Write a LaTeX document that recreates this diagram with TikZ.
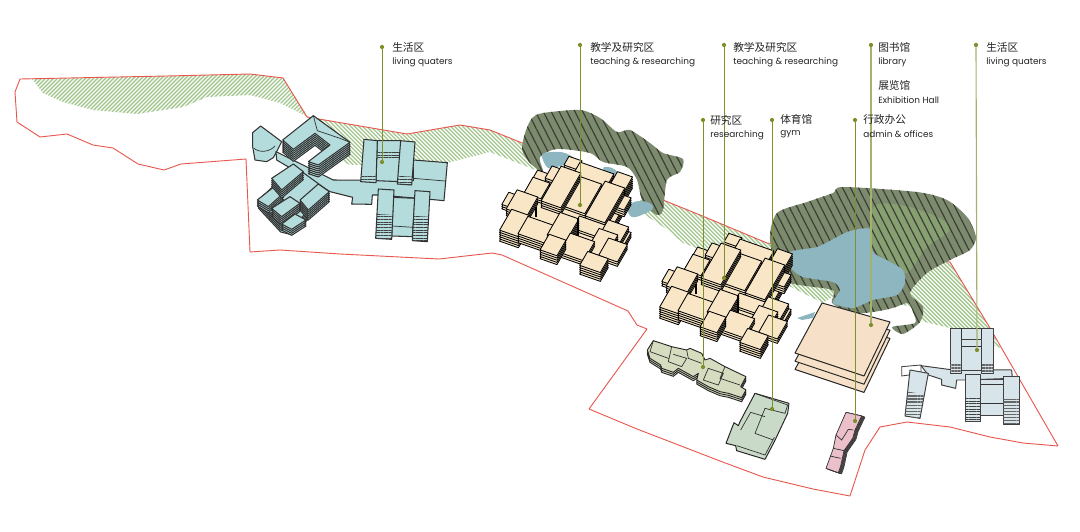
\documentclass[tikz,border=0pt]{standalone}
\usepackage{fontspec}
\setmainfont{Poppins}
\newfontfamily\cjkfont{Noto Sans CJK SC}
\usepackage{xcolor}
\usetikzlibrary{arrows.meta, positioning, patterns.meta}
\definecolor{SiteRed}{HTML}{E8574E}
\definecolor{Olive}{HTML}{7F8F2C}
\definecolor{PaleOlive}{HTML}{A3B26C}
\definecolor{BandGreen}{HTML}{A2C68E}
\definecolor{TreeGreen}{HTML}{7C8B6E}
\definecolor{TreeLight}{HTML}{86A072}
\definecolor{TreeLine}{HTML}{3E3D35}
\definecolor{Water}{HTML}{8DB6C0}
\definecolor{Cream}{HTML}{F8E6C6}
\definecolor{Peach}{HTML}{F6E1C8}
\definecolor{Teal}{HTML}{B5DCDC}
\definecolor{Frost}{HTML}{D7E5EA}
\definecolor{Sage}{HTML}{D5DCBF}
\definecolor{GymGreen}{HTML}{C9DBC8}
\definecolor{Pink}{HTML}{EBC0CB}
\definecolor{InkText}{HTML}{222222}

% floors of one building, lowest first
\newcommand{\stackup}[5]{\foreach \k in {#2,...,0}{\draw[#1,shift={(\k*#3,\k*#4)}] #5 -- cycle;}}
% block of the teaching halls: style, centre x, centre y, long side, short side, floors
\newcommand{\isobox}[6]{\stackup{#1}{#6}{0}{2.2}{(#2-#4*.47+#5*.25,#3-#4*.165-#5*.435) -- (#2+#4*.47+#5*.25,#3+#4*.165-#5*.435) -- (#2+#4*.47-#5*.25,#3+#4*.165+#5*.435) -- (#2-#4*.47-#5*.25,#3-#4*.165+#5*.435)}}
\newcommand{\teachcluster}{%
\isobox{creamblock}{566}{214}{95}{65}{3}
\isobox{creamblock}{573}{163}{14}{10}{2}
\isobox{creamblock}{557}{175}{18}{14}{2}
\isobox{creamblock}{593}{175}{36}{16}{2}
\isobox{creamblock}{620}{183}{16}{20}{5}
\isobox{creamblock}{537}{188}{18}{18}{2}
\isobox{creamblock}{582}{195}{24}{34}{1}
\isobox{creamblock}{561}{187}{21}{40}{3}
\isobox{creamblock}{510}{200}{10}{14}{2}
\isobox{creamblock}{522}{203}{22}{22}{3}
\isobox{creamblock}{622}{202}{12}{14}{3}
\isobox{creamblock}{605}{202}{21}{40}{3}
\isobox{creamblock}{590}{227}{30}{14}{1}
\isobox{creamblock}{515}{223}{20}{24}{5}
\isobox{creamblock}{537}{230}{30}{20}{4}
\isobox{creamblock}{623}{237}{10}{14}{2}
\isobox{creamblock}{613}{233}{22}{22}{2}
\isobox{creamblock}{563}{227}{20}{26}{6}
\isobox{creamblock}{602}{243}{20}{26}{4}
\isobox{creamblock}{577}{247}{26}{22}{2}
\isobox{creamblock}{553}{245}{18}{18}{4}
\isobox{creamblock}{613}{250}{20}{20}{2}
\isobox{creamblock}{594}{262}{22}{16}{4}
\draw[line width=1pt] (536,207) -- (536,217) (578,218) -- (578,236);
}

\begin{document}
\begin{tikzpicture}[
    x=0.025cm, y=-0.025cm,
    sitebound/.style={draw=SiteRed, line width=0.65pt, line join=round},
    bandleft/.style={pattern={Lines[angle=45,distance=2.012pt,line width=0.95pt]}, pattern color=BandGreen},
    bandright/.style={pattern={Lines[angle=-45,distance=2.012pt,line width=0.95pt]}, pattern color=BandGreen},
    treefill/.style={fill=TreeGreen},
    treehatch/.style={pattern={Lines[angle=-63,distance=5pt,line width=0.85pt]}, pattern color=TreeLine},
    creamblock/.style={draw=black, line width=0.6pt, fill=Cream, line join=round},
    peachblock/.style={draw=black!85, line width=0.7pt, fill=Peach, line join=round},
    tealblock/.style={draw=black!80, line width=0.75pt, fill=Teal, line join=round},
    frostblock/.style={draw=black!75, line width=0.7pt, fill=Frost, line join=round},
    sageblock/.style={draw=black!85, line width=0.65pt, fill=Sage, line join=round},
    gymblock/.style={draw=black!85, line width=0.7pt, fill=GymGreen, line join=round},
    pinkblock/.style={draw=black!80, line width=0.5pt, fill=Pink, line join=round},
    thinline/.style={draw=black!80, line width=0.5pt},
    floorsdark/.style={pattern={Lines[angle=0,distance=1.9pt,line width=0.65pt]}, pattern color=black!75},
    floorsgrey/.style={pattern={Lines[angle=0,distance=2.2pt,line width=0.9pt]}, pattern color=black!60},
    leader/.style={draw=Olive, line width=0.7pt},
    paleleader/.style={draw=PaleOlive, line width=0.8pt},
    tipdot/.style={circle, fill=Olive, inner sep=0pt, minimum size=3pt},
    cnlabel/.style={anchor=west, inner sep=0pt, text=InkText, font=\cjkfont\fontsize{7.6}{9}\selectfont},
    enlabel/.style={anchor=west, inner sep=0pt, text=InkText, font=\fontsize{6.35}{8}\selectfont}
]
\useasboundingbox (0,0) rectangle (1080,532);

% Green bands
\path[bandleft] (32,79) -- (167,76) -- (250,74) -- (283,78) -- (308,117) -- (280,103) -- (250,95) -- (207,97) -- (183,107) -- (137,114) -- (93,110) -- (63,102) -- (43,93) -- cycle;
\path[bandright] (308,117) -- (320,150) -- (350,165) -- (447,163) -- (490,152) -- (523,165) -- (543,173) -- (630,205) -- (668,230) -- (683,243) -- (707,252) -- (783,283) -- (823,303) -- (835,295) -- (893,303) -- (908,306) -- (925,322) -- (950,328) -- (1000,348) -- (990,328) -- (950,262) -- (767,243) -- (740,232) -- (700,215) -- (490,130) -- (460,125) -- (407,134) -- cycle;

% Site boundary
\draw[sitebound] (20,79) -- (167,76) -- (250,74) -- (283,78) -- (307,117) -- (407,134) -- (460,125) -- (490,130) -- (700,215) -- (767,243) -- (950,262) -- (990,328) -- (1058,446) -- (1023,443) -- (990,437) -- (950,427) -- (907,422) -- (880,427) -- (865,450) -- (850,496) -- (813,489) -- (763,477) -- (720,461) -- (637,429) -- (589,409) -- (647,329) -- (637,325) -- (628,311) -- (502,255) -- (492,253) -- (439,259) -- (340,254) -- (280,250) -- (250,252) -- (246,159) -- (181,164) -- (164,170) -- (138,164) -- (113,148) -- (93,145) -- (67,134) -- (40,137) -- (17,122) -- (15,92) -- cycle;

% Woods and water, first group
\fill[white] plot[smooth cycle, tension=0.5] coordinates {(543,150) (590,150) (605,160) (627,165) (645,190) (632,205) (600,190) (545,178)};
\path[treefill] plot[smooth cycle, tension=0.45] coordinates {(532,118) (543,113) (580,110) (600,118) (617,132) (630,130) (650,143) (663,153) (683,159) (680,172) (667,180) (663,210) (657,215) (643,203) (637,180) (627,167) (603,162) (590,153) (557,149) (540,157) (543,172) (530,163) (522,150) (525,133)};
\path[treehatch] plot[smooth cycle, tension=0.45] coordinates {(532,118) (543,113) (580,110) (600,118) (617,132) (630,130) (650,143) (663,153) (683,159) (680,172) (667,180) (663,210) (657,215) (643,203) (637,180) (627,167) (603,162) (590,153) (557,149) (540,157) (543,172) (530,163) (522,150) (525,133)};
\fill[Water] plot[smooth cycle, tension=0.6] coordinates {(542,155) (552,152) (565,153) (575,160) (560,166) (548,168)};
\fill[Water] plot[smooth cycle, tension=0.6] coordinates {(603,168) (612,168) (621,176) (610,176)};
\fill[Water] plot[smooth cycle, tension=0.7] coordinates {(628,209) (634,202) (647,202) (653,208) (644,214) (632,217)};

% Woods and water, second group
\path[treefill] plot[smooth cycle, tension=0.45] coordinates {(770,240) (777,213) (807,202) (833,193) (843,187) (917,192) (947,200) (967,217) (976,237) (970,250) (950,260) (927,273) (910,293) (923,307) (920,322) (903,334) (892,327) (915,323) (913,312) (908,303) (893,308) (873,312) (853,313) (832,303) (832,290) (783,280)};
\fill[TreeLight] plot[smooth cycle, tension=0.6] coordinates {(873,208) (900,205) (937,217) (950,230) (927,247) (907,273) (893,263) (873,247)};
\path[treehatch] plot[smooth cycle, tension=0.45] coordinates {(770,240) (777,213) (807,202) (833,193) (843,187) (917,192) (947,200) (967,217) (976,237) (970,250) (950,260) (927,273) (910,293) (923,307) (920,322) (903,334) (892,327) (915,323) (913,312) (908,303) (893,308) (873,312) (853,313) (832,303) (832,290) (783,280)};
\fill[Water] plot[smooth cycle, tension=0.4] coordinates {(790,252) (817,247) (837,237) (850,231) (870,229) (873,252) (887,260) (903,270) (905,283) (897,295) (873,300) (853,308) (833,303) (840,290) (833,282) (803,277) (790,267)};
\fill[Water] (797,318) -- (815,312) -- (813,318) -- (802,320) -- cycle;

% Living quarters, west
\begin{scope}[shift={(240,110)}, scale=1/3]
\draw[tealblock] (38,68) -- (62,48) -- (125,95) -- (110,125) -- (100,143) -- (80,155) -- (45,150) -- (38,110) -- cycle;
\draw[thinline] (42,115) .. controls (60,130) and (90,125) .. (105,108);
\draw[tealblock] (108,125) -- (280,210) -- (520,212) -- (520,150) -- (622,158) -- (612,272) -- (570,268) -- (415,255) -- (397,255) -- (395,283) -- (335,282) -- (338,262) -- (270,245) -- (110,150) -- cycle;
\draw[thinline] (520,205) -- (615,213);
\stackup{tealblock}{6}{0}{6}{(128,90) -- (220,17) -- (330,97) -- (235,165) -- (205,155) -- (270,105) -- (225,70) -- (160,118)}
\draw[thinline] (220,17) -- (232,62) (330,97) -- (300,85) -- (232,62);
\stackup{tealblock}{4}{0}{6}{(55,270) -- (165,170) -- (268,245) -- (155,350) -- (122,342)}
\stackup{tealblock}{3}{0}{6}{(52,270) -- (100,232) -- (130,250) -- (85,290)}
\stackup{tealblock}{4}{0}{6}{(95,205) -- (160,162) -- (190,185) -- (125,240)}
\stackup{tealblock}{4}{0}{6}{(95,295) -- (150,260) -- (180,280) -- (125,320)}
\stackup{tealblock}{5}{0}{6}{(180,270) -- (235,222) -- (268,245) -- (205,300)}
\stackup{tealblock}{3}{0}{6}{(125,342) -- (165,312) -- (198,330) -- (155,358)}
% upper hall
\draw[tealblock] (412,92) -- (482,92) -- (480,215) -- (408,212) -- cycle;
\fill[floorsdark] (412,122) -- (480,125) -- (478,150) -- (412,147) -- cycle;
\draw[tealblock] (372,88) -- (412,92) -- (408,218) -- (362,215) -- cycle;
\fill[floorsdark] (366,195) -- (410,197) -- (408,218) -- (362,215) -- cycle;
\draw[tealblock] (482,92) -- (525,96) -- (515,225) -- (472,222) -- cycle;
\fill[floorsdark] (476,198) -- (518,200) -- (515,225) -- (472,222) -- cycle;
% lower hall
\draw[tealblock] (460,262) -- (525,265) -- (517,380) -- (455,378) -- cycle;
\draw[thinline] (457,348) -- (520,352);
\draw[tealblock] (415,237) -- (462,240) -- (455,388) -- (407,385) -- cycle;
\fill[floorsdark] (411,312) -- (458,315) -- (455,388) -- (407,385) -- cycle;
\draw[tealblock] (525,242) -- (570,245) -- (562,395) -- (517,392) -- cycle;
\fill[floorsdark] (521,318) -- (566,320) -- (562,395) -- (517,392) -- cycle;
\end{scope}

% Teaching halls
\teachcluster
\begin{scope}[shift={(160,77)}]
\teachcluster
\end{scope}

% Researching
\begin{scope}[shift={(640,335)}, scale=1/3]
\stackup{sageblock}{2}{0}{6}{(40,17) -- (95,35) -- (140,45) -- (150,40) -- (185,55) -- (195,75) -- (210,70) -- (255,95) -- (318,125) -- (302,155) -- (318,165) -- (305,188) -- (265,175) -- (240,170) -- (205,155) -- (170,135) -- (175,115) -- (160,125) -- (115,100) -- (100,112) -- (65,100) -- (62,90) -- (30,70) -- (22,45)}
\draw[thinline] (40,17) -- (30,50) -- (85,70) (95,35) -- (85,80) -- (125,95) (100,58) -- (140,70) -- (125,95) (140,45) -- (145,70) -- (185,85) (205,100) -- (250,115) -- (235,150) (205,100) -- (190,135) -- (235,150) (255,95) -- (240,130) -- (300,150);
\end{scope}

% Gym
\begin{scope}[shift={(720,380)}, scale=1/3]
\draw[gymblock] (105,40) -- (207,70) -- (203,100) -- (163,185) -- (135,238) -- (50,212) -- (47,197) -- (18,190) -- (42,128) -- (55,137) -- (60,125) -- cycle;
\draw[thinline] (62,150) -- (92,97) -- (135,110) (135,85) -- (105,160) -- (160,180) (135,85) -- (195,100) -- (203,75) -- (105,40) (50,197) -- (135,225) -- (163,172);
\end{scope}

% Admin and offices
\begin{scope}[shift={(720,380)}, scale=1/3]
\stackup{pinkblock}{6}{1.6}{0.6}{(378,97) -- (425,108) -- (405,150) -- (398,175) -- (372,212) -- (362,258) -- (355,278) -- (318,265) -- (340,205) -- (348,165)}
\draw[thinline] (400,150) -- (385,148) -- (365,180) -- (348,165) (372,212) -- (340,205) (362,235) -- (330,228);
\end{scope}

% Library and exhibition hall
\stackup{peachblock}{2}{0}{8.2}{(822,303) -- (890,322) -- (864,376) -- (795,353)}

% Living quarters, east
\begin{scope}[shift={(790,290)}, scale=1/3]
\draw[draw=black!75, line width=0.6pt, fill=white] (335,230) -- (393,225) -- (393,250) -- (335,258) -- cycle;
\draw[frostblock] (393,227) -- (475,238) -- (665,240) -- (667,265) -- (525,270) -- (500,270) -- (497,295) -- (455,285) -- (455,268) -- (415,255) -- cycle;
\draw[frostblock] (480,115) -- (610,115) -- (610,250) -- (575,250) -- (575,240) -- (515,240) -- (515,250) -- (480,250) -- cycle;
\fill[floorsgrey] (480,220) -- (515,220) -- (515,250) -- (480,250) -- cycle;
\fill[floorsgrey] (575,220) -- (610,220) -- (610,250) -- (575,250) -- cycle;
\draw[frostblock] (515,148) -- (575,148) -- (575,240) -- (515,240) -- cycle;
\draw[thinline] (515,170) -- (575,170) (515,115) -- (515,148) (575,115) -- (575,148);
\draw[frostblock] (360,240) -- (415,250) -- (390,385) -- (345,378) -- cycle;
\fill[floorsgrey] (354,305) -- (403,313) -- (390,385) -- (345,378) -- cycle;
\draw[frostblock] (572,268) -- (640,268) -- (640,375) -- (572,375) -- cycle;
\draw[thinline] (572,282) -- (640,282) (572,340) -- (640,340);
\draw[frostblock] (525,253) -- (572,253) -- (572,395) -- (525,395) -- cycle;
\fill[floorsdark] (525,320) -- (572,320) -- (572,395) -- (525,395) -- cycle;
\draw[frostblock] (640,260) -- (688,260) -- (688,402) -- (640,402) -- cycle;
\fill[floorsgrey] (640,328) -- (688,328) -- (688,402) -- (640,402) -- cycle;
\end{scope}

% Labels and leaders
\node[tipdot] (live1top) at (382,47) {};
\node[tipdot] (live1end) at (382,162) {};
\draw[leader] (live1top) -- (live1end);
\node[cnlabel] (live1cn) at (392,47) {生活区};
\node[enlabel] (live1en) at (392,62) {living quaters};

\node[tipdot] (teach1top) at (580,45) {};
\node[tipdot] (teach1end) at (580,205) {};
\draw[leader] (teach1top) -- (teach1end);
\node[cnlabel] (teach1cn) at (590,47) {教学及研究区};
\node[enlabel] (teach1en) at (590,62) {teaching \& researching};

\node[tipdot] (teach2top) at (724,45) {};
\node[tipdot] (teach2end) at (724,278) {};
\draw[leader] (teach2top) -- (teach2end);
\node[cnlabel] (teach2cn) at (733,47) {教学及研究区};
\node[enlabel] (teach2en) at (733,62) {teaching \& researching};

\node[tipdot] (librarytop) at (871,45) {};
\node[tipdot] (libraryend) at (871,325) {};
\draw[paleleader] (librarytop) -- (libraryend);
\node[cnlabel] (librarycn) at (878,47) {图书馆};
\node[enlabel] (libraryen) at (878,62) {library};
\node[cnlabel] (hallcn) at (878,85) {展览馆};
\node[enlabel] (hallen) at (878,100) {Exhibition Hall};

\node[tipdot] (live2top) at (976,45) {};
\node[tipdot] (live2end) at (977,350) {};
\draw[paleleader] (live2top) -- (live2end);
\node[cnlabel] (live2cn) at (986,47) {生活区};
\node[enlabel] (live2en) at (986,62) {living quaters};

\node[tipdot] (researchtop) at (703,120) {};
\node[tipdot] (researchend) at (703,367) {};
\draw[leader] (researchtop) -- (researchend);
\node[cnlabel] (researchcn) at (710,120) {研究区};
\node[enlabel] (researchen) at (710,135) {researching};

\node[tipdot] (gymtop) at (772,120) {};
\node[tipdot] (gymend) at (772,409) {};
\draw[leader] (gymtop) -- (gymend);
\node[cnlabel] (gymcn) at (780,119) {体育馆};
\node[enlabel] (gymen) at (780,134) {gym};

\node[tipdot] (admintop) at (855,120) {};
\node[tipdot] (adminend) at (855,421) {};
\draw[leader] (admintop) -- (adminend);
\node[cnlabel] (admincn) at (863,119) {行政办公};
\node[enlabel] (adminen) at (863,134) {admin \& offices};
\end{tikzpicture}
\end{document}
